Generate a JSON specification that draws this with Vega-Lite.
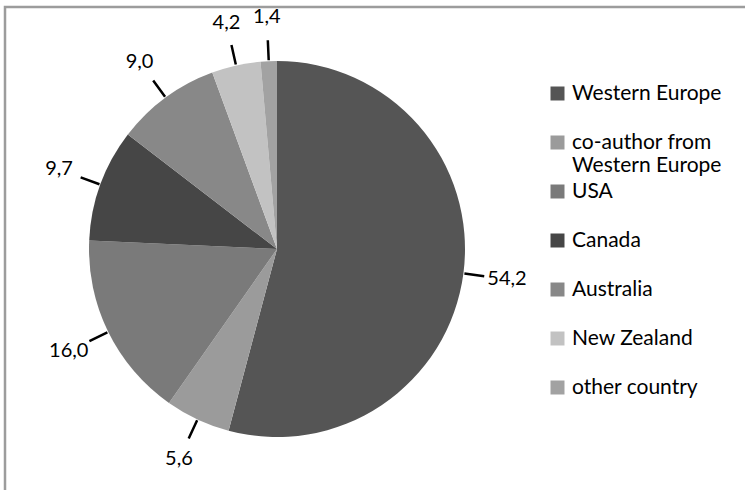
{
  "$schema": "https://vega.github.io/schema/vega-lite/v6.json",
  "width": 745,
  "height": 488,
  "autosize": {"type": "none"},
  "padding": {"left": 5, "top": 7, "right": -5, "bottom": -5},
  "background": "white",
  "view": {"stroke": "#9c9c9c", "strokeWidth": 2.5, "fill": "white"},
  "config": {
    "font": "Lato",
    "locale": {"number": {"decimal": ",", "thousands": ".", "grouping": [3], "currency": ["", " €"]}},
    "legend": {"padding": 0}
  },
  "data": {
    "values": [
      {"category": "Western Europe", "value": 54.2, "rank": 1},
      {"category": "co-author from Western Europe", "value": 5.6, "rank": 2},
      {"category": "USA", "value": 16.0, "rank": 3},
      {"category": "Canada", "value": 9.7, "rank": 4},
      {"category": "Australia", "value": 9.0, "rank": 5},
      {"category": "New Zealand", "value": 4.2, "rank": 6},
      {"category": "other country", "value": 1.4, "rank": 7}
    ]
  },
  "layer": [
    {
      "mark": {"type": "arc", "outerRadius": 188, "x": 272, "y": 242},
      "encoding": {
        "theta": {"field": "value", "type": "quantitative", "stack": true, "scale": {"domain": [0, 100.1]}},
        "order": {"field": "rank", "type": "quantitative"},
        "color": {
          "field": "category",
          "type": "nominal",
          "scale": {
            "domain": ["Western Europe", "co-author from Western Europe", "USA", "Canada", "Australia", "New Zealand", "other country"],
            "range": ["#555555", "#9b9b9b", "#7a7a7a", "#464646", "#888888", "#c2c2c2", "#a2a2a2"]
          },
          "legend": {
            "orient": "none",
            "legendX": 542,
            "legendY": 76,
            "title": null,
            "symbolType": "square",
            "symbolSize": 196,
            "symbolStrokeWidth": 0,
            "labelFont": "Lato",
            "labelFontSize": 21,
            "labelColor": "black",
            "labelOffset": 4,
            "labelLimit": 0,
            "rowPadding": 4,
            "labelExpr": "datum.label == 'co-author from Western Europe' ? ['co-author from', 'Western Europe'] : [datum.label, '']"
          }
        }
      }
    },
    {
      "transform": [
        {"stack": "value", "groupby": [], "sort": [{"field": "rank", "order": "ascending"}], "as": ["v0", "v1"]},
        {"filter": "datum.category != 'Western Europe'"}
      ],
      "mark": {"type": "arc", "filled": false, "stroke": "black", "strokeWidth": 2.5, "padAngle": 3.1416, "innerRadius": 189, "outerRadius": 209, "x": 272, "y": 242},
      "encoding": {
        "theta": {"field": "v0", "type": "quantitative", "stack": null, "scale": {"domain": [0, 100.1]}},
        "theta2": {"field": "v1"}
      }
    },
    {
      "transform": [{"filter": "datum.category == 'Western Europe'"}],
      "mark": {"type": "arc", "filled": false, "stroke": "black", "strokeWidth": 2.5, "innerRadius": 189, "outerRadius": 209, "x": 272, "y": 242},
      "encoding": {
        "theta": {"field": "value", "type": "quantitative", "stack": null, "scale": {"domain": [0, 200.2]}},
        "theta2": {"field": "value"}
      }
    },
    {
      "mark": {"type": "text", "radius": 232, "fontSize": 20, "font": "Lato", "color": "black", "x": 272, "y": 242},
      "encoding": {
        "theta": {"field": "value", "type": "quantitative", "stack": true, "scale": {"domain": [0, 100.1]}},
        "order": {"field": "rank", "type": "quantitative"},
        "text": {"field": "value", "type": "quantitative", "format": ".1f"}
      }
    }
  ],
  "resolve": {"scale": {"theta": "independent"}}
}
